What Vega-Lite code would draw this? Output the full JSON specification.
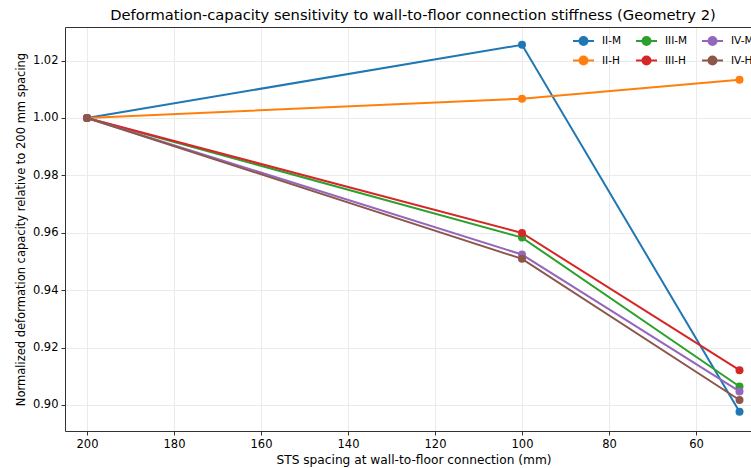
{
  "$schema": "https://vega.github.io/schema/vega-lite/v6.json",
  "width": 686,
  "height": 404,
  "autosize": {"type": "none"},
  "padding": {"left": 65, "top": 27, "right": 0, "bottom": 37},
  "background": "white",
  "title": {
    "text": "Deformation-capacity sensitivity to wall-to-floor connection stiffness (Geometry 2)",
    "fontSize": 14.7,
    "fontWeight": "normal",
    "font": "DejaVu Sans",
    "color": "black",
    "anchor": "middle",
    "frame": "group",
    "offset": 4,
    "dx": 5
  },
  "config": {
    "font": "DejaVu Sans",
    "view": {"stroke": null},
    "axis": {
      "labelFont": "DejaVu Sans",
      "titleFont": "DejaVu Sans",
      "labelFontSize": 11.5,
      "titleFontSize": 11.5,
      "titleFontWeight": "normal",
      "labelColor": "black",
      "titleColor": "black",
      "domainColor": "#333",
      "domainWidth": 1,
      "tickColor": "#333",
      "tickSize": 4,
      "gridColor": "#ebebeb",
      "gridWidth": 1
    }
  },
  "data": {
    "values": [
      {"series": "II-M", "spacing": 200, "value": 1.0},
      {"series": "II-M", "spacing": 100, "value": 1.0255},
      {"series": "II-M", "spacing": 50, "value": 0.8976},
      {"series": "II-H", "spacing": 200, "value": 1.0},
      {"series": "II-H", "spacing": 100, "value": 1.0067},
      {"series": "II-H", "spacing": 50, "value": 1.0133},
      {"series": "III-M", "spacing": 200, "value": 1.0},
      {"series": "III-M", "spacing": 100, "value": 0.9583},
      {"series": "III-M", "spacing": 50, "value": 0.9064},
      {"series": "III-H", "spacing": 200, "value": 1.0},
      {"series": "III-H", "spacing": 100, "value": 0.9599},
      {"series": "III-H", "spacing": 50, "value": 0.9121},
      {"series": "IV-M", "spacing": 200, "value": 1.0},
      {"series": "IV-M", "spacing": 100, "value": 0.9524},
      {"series": "IV-M", "spacing": 50, "value": 0.9047},
      {"series": "IV-H", "spacing": 200, "value": 1.0},
      {"series": "IV-H", "spacing": 100, "value": 0.9509},
      {"series": "IV-H", "spacing": 50, "value": 0.9017}
    ]
  },
  "encoding": {
    "y": {
      "field": "value",
      "type": "quantitative",
      "scale": {"domain": [0.8909, 1.0317], "nice": false, "zero": false},
      "axis": {
        "values": [0.90, 0.92, 0.94, 0.96, 0.98, 1.00, 1.02],
        "format": ".2f",
        "title": "Normalized deformation capacity relative to 200 mm spacing",
        "labelPadding": 3,
        "titlePadding": 6
      }
    },
    "color": {
      "field": "series",
      "type": "nominal",
      "scale": {
        "domain": ["II-M", "II-H", "III-M", "III-H", "IV-M", "IV-H"],
        "range": ["#1f77b4", "#ff7f0e", "#2ca02c", "#d62728", "#9467bd", "#8c564b"]
      },
      "legend": {
        "orient": "none",
        "legendX": 512.5,
        "legendY": 8,
        "columns": 3,
        "title": null,
        "padding": 0,
        "symbolType": "M-2.1,0H2.1M-0.8,0A0.8,0.8,0,1,0,0.8,0A0.8,0.8,0,1,0,-0.8,0Z",
        "symbolSize": 100,
        "symbolStrokeWidth": 2,
        "labelFontSize": 10.5,
        "labelFont": "DejaVu Sans",
        "labelColor": "black",
        "labelOffset": 12.5,
        "columnPadding": 10,
        "rowPadding": 3.5
      }
    }
  },
  "layer": [
    {
      "mark": {"type": "line", "strokeWidth": 2},
      "encoding": {
        "x": {
          "field": "spacing",
          "type": "quantitative",
          "scale": {"domain": [47.36, 205.06], "reverse": true, "nice": false, "zero": false},
          "axis": {
            "orient": "bottom",
            "values": [60, 80, 100, 120, 140, 160, 180, 200],
            "title": "STS spacing at wall-to-floor connection (mm)",
            "titleFontSize": 12.2,
            "titleX": 348.5,
            "labelPadding": 3,
            "titlePadding": 4
          }
        }
      }
    },
    {
      "mark": {"type": "point", "filled": true, "size": 64, "opacity": 1},
      "encoding": {
        "x": {
          "field": "spacing",
          "type": "quantitative",
          "axis": {
            "orient": "top",
            "labels": false,
            "ticks": false,
            "grid": false,
            "title": null
          }
        }
      }
    }
  ],
  "resolve": {"axis": {"x": "independent"}}
}
